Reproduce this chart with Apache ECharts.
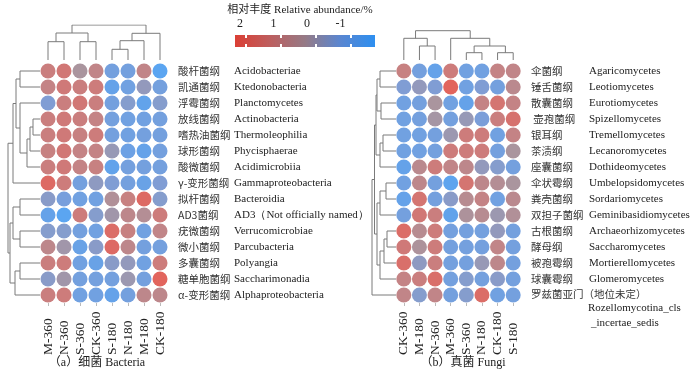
<!DOCTYPE html>
<html><head><meta charset="utf-8">
<script src="https://cdn.jsdelivr.net/npm/echarts@6/dist/echarts.min.js"></script>
<style>html,body{margin:0;padding:0;background:#fff}#c{width:700px;height:373px}</style>
</head><body><div id="c"></div>
<script>
// ---------- data ----------
const bactCols = ['M-360','N-360','S-360','CK-360','S-180','N-180','M-180','CK-180'];
const bactCn = ['酸杆菌纲','凯通菌纲','浮霉菌纲','放线菌纲','嗜热油菌纲','球形菌纲','酸微菌纲','γ-变形菌纲','拟杆菌纲','AD3菌纲','疣微菌纲','微小菌纲','多囊菌纲','糖单胞菌纲','α-变形菌纲'];
const bactEn = ['Acidobacteriae','Ktedonobacteria','Planctomycetes','Actinobacteria','Thermoleophilia','Phycisphaerae','Acidimicrobiia','Gammaproteobacteria','Bacteroidia','AD3（Not officially named）','Verrucomicrobiae','Parcubacteria','Polyangia','Saccharimonadia','Alphaproteobacteria'];
const bactValues = [
  [1.0, 1.3, 0.0, 0.7, -1.2, -1.2, 0.7, -1.9],
  [0.8, 1.2, 1.0, 1.1, -1.6, -1.3, -0.5, -1.2],
  [-0.9, 1.0, 1.3, 1.0, -1.2, -0.8, -1.7, -0.8],
  [1.0, 1.2, 1.0, 0.8, -1.2, -1.3, -1.3, -1.2],
  [1.0, 1.2, 0.9, 1.1, -1.2, -1.3, -1.2, -1.2],
  [0.9, 1.3, 0.8, 0.8, -0.4, -1.4, -1.6, -1.2],
  [1.0, 1.2, 0.8, 0.9, -1.7, -1.2, -1.2, -1.2],
  [1.8, 1.1, -1.2, -0.6, -0.9, -1.2, -1.5, -0.9],
  [-0.7, -1.1, -1.3, -1.3, 0.2, 0.9, 1.8, -0.8],
  [-1.6, -1.9, 1.1, -0.8, -0.2, 0.6, 0.3, 1.1],
  [-0.8, -0.8, -1.2, -1.3, 1.7, 0.9, -1.3, 0.7],
  [0.6, -0.2, -1.5, -0.7, 1.8, 0.6, -1.2, -1.2],
  [1.0, 1.1, -1.3, -1.5, -0.7, -0.5, -1.3, 1.1],
  [-0.7, -0.2, -1.2, -1.2, -1.2, -0.3, -1.2, 2.0],
  [1.0, 1.1, -1.3, -1.3, -1.6, -1.2, 0.6, 0.6]
];
const fungiCols = ['CK-360','M-180','N-360','M-360','S-360','N-180','CK-180','S-180'];
const fungiCn = ['伞菌纲','锤舌菌纲','散囊菌纲',' 壶孢菌纲','银耳纲','茶渍纲','座囊菌纲','伞状霉纲','粪壳菌纲','双担子菌纲','古根菌纲','酵母纲','被孢霉纲','球囊霉纲','罗兹菌亚门（地位未定）'];
const fungiEn = ['Agaricomycetes','Leotiomycetes','Eurotiomycetes','Spizellomycetes','Tremellomycetes','Lecanoromycetes','Dothideomycetes','Umbelopsidomycetes','Sordariomycetes','Geminibasidiomycetes','Archaeorhizomycetes','Saccharomycetes','Mortierellomycetes','Glomeromycetes','Rozellomycotina_cls\n_incertae_sedis'];
const fungiValues = [
  [0.9, -1.2, -1.6, 1.1, -1.3, -1.3, 0.8, 0.7],
  [-0.9, -0.5, -0.9, 2.0, -1.3, -0.9, -1.2, 0.5],
  [-1.3, -1.2, 0.0, -1.3, -1.6, 0.8, 1.4, 0.8],
  [-1.3, -1.2, -0.1, -1.2, -0.4, -1.0, 1.0, 1.5],
  [-1.3, -1.3, -1.2, -0.3, 1.1, 1.1, -1.3, 0.8],
  [-1.3, -1.3, -1.2, 1.1, 1.1, 1.1, -1.2, 0.0],
  [-1.6, 0.5, 1.1, 0.7, 0.6, -0.5, -0.8, -1.2],
  [-1.3, 0.6, -1.2, -1.8, 1.4, 0.6, 0.3, 0.0],
  [-1.6, 1.4, -1.2, -0.7, 0.4, 0.8, -1.3, 0.5],
  [-1.2, 1.3, 1.0, -1.7, 0.1, 0.4, -0.3, 0.2],
  [1.7, 0.4, 1.1, -1.2, -1.2, -1.2, -0.5, -1.2],
  [1.2, 0.1, 1.1, -1.2, -1.2, -1.2, 0.7, -1.2],
  [1.6, -0.6, 1.0, -1.2, -1.2, -0.4, 0.6, -1.2],
  [0.8, 1.0, 1.6, -1.2, -0.8, -1.2, -0.7, -1.2],
  [0.7, -0.8, 0.7, -1.2, -0.8, 1.7, -1.3, -1.2]
];
// dendrograms: [childA, childB, height]; ids < n are leaves, n+k is merge k
const bactColTree = [[0,1,18.3],[2,3,18.3],[8,9,27],[4,5,10.7],[11,6,19.3],[12,7,26.7],[10,13,35]];
const fungiColTree = [[1,2,14],[0,8,21.7],[4,5,7.3],[6,7,7.3],[10,11,14],[3,12,21.7],[9,13,29.3]];
const bactRowTree = [[0,1,20],[3,4,7],[16,5,10],[17,6,13],[2,18,20],[15,19,24],[20,7,27],[8,9,20],[10,11,20],[22,23,27],[12,13,20],[25,14,25],[24,26,30],[21,27,32]];
const fungiRowTree = [[0,1,16],[2,3,15],[15,16,19],[4,5,13],[18,6,16],[17,19,20],[7,8,10],[21,9,16],[10,11,9],[23,12,12],[24,13,16],[22,25,19],[20,26,21.5],[27,14,24]];
const cbTicks = [2, 1, 0, -1];
const cbTitle = '相对丰度 Relative abundance/%';
const captions = ['（a）细菌 Bacteria', '（b）真菌 Fungi'];

// ---------- helpers ----------
const colors = ['#2d8ff0', '#5a86d0', '#957a86', '#bd5e5e', '#db3f35']; // -2 .. 2
function heat(values) {
  const d = [];
  values.forEach((row, r) => row.forEach((v, c) => d.push([c, r, v])));
  return d;
}
function dendro(tree, n, left) {
  const pos = [], hgt = [], out = [];
  for (let i = 0; i < n; i++) { pos[i] = i; hgt[i] = 0; }
  tree.forEach((m, k) => {
    const [a, b, h] = m, id = n + k;
    pos[id] = (pos[a] + pos[b]) / 2; hgt[id] = h;
    let pts = [[pos[a], hgt[a]], [pos[a], h], [pos[b], h], [pos[b], hgt[b]]];
    if (left) pts = pts.map(p => [p[1], p[0]]);
    out.push({ coords: pts });
  });
  return out;
}
const serif = "'Liberation Serif','Times New Roman',serif";
const cjk = "'Noto Sans CJK SC',sans-serif";
const mixed = "'Liberation Serif','Noto Sans CJK SC',serif";

function heatX(grid, cols) {
  return { type: 'category', gridIndex: grid, data: cols,
    axisLine: { show: false },
    axisTick: { show: true, alignWithLabel: true, length: 3, lineStyle: { color: '#bbb' } },
    axisLabel: { interval: 0, rotate: 90, align: 'left', verticalAlign: 'middle', margin: 52, fontFamily: serif, fontSize: 13.5, color: '#222' } };
}
function heatY(grid, cn, en, cnW) {
  return { type: 'category', gridIndex: grid, inverse: true, position: 'right',
    data: cn.map((_, i) => String(i)),
    axisLine: { show: false }, axisTick: { show: false },
    axisLabel: { interval: 0, showMinLabel: true, showMaxLabel: true, hideOverlap: false, margin: 10,
      formatter: (v) => {
        const i = +v;
        if (en[i].indexOf('\n') >= 0) {
          const p = en[i].split('\n');
          return '{sp| }\n{sp| }\n{cnl|' + cn[i] + '}\n{e2|' + p[0] + '}\n{e3|' + p[1] + '}';
        }
        return '{cn|' + cn[i] + '}{en|' + en[i] + '}';
      },
      rich: {
        cn: { fontFamily: cjk, fontSize: 10.5, color: '#333', width: cnW },
        cnl: { fontFamily: cjk, fontSize: 10.5, color: '#333', lineHeight: 14 },
        en: { fontFamily: serif, fontSize: 11, color: '#222' },
        sp: { fontSize: 11, lineHeight: 14 },
        e2: { fontFamily: serif, fontSize: 11, color: '#222', lineHeight: 15, padding: [0, 0, 0, 57] },
        e3: { fontFamily: serif, fontSize: 11, color: '#222', lineHeight: 15, padding: [0, 0, 0, 60] }
      } } };
}
function hid(grid, type, min, max, inverse) {
  return { type: 'value', gridIndex: grid, min: min, max: max, inverse: !!inverse, show: false,
    splitLine: { show: false }, axisLine: { show: false }, axisLabel: { show: false }, axisTick: { show: false } };
}

// colorbar graphic
const cbX0 = 235, cbX1 = 375, cbY = 35, cbH = 12;
const cbPos = v => 240 - (v - 2) * 33.5;
const graphics = [
  { type: 'text', x: 300, y: 10, style: { text: cbTitle, font: '11px ' + mixed, fill: '#222', align: 'center', verticalAlign: 'middle' } },
  { type: 'rect', shape: { x: cbX0, y: cbY, width: cbX1 - cbX0, height: cbH },
    style: { fill: new echarts.graphic.LinearGradient(0, 0, 1, 0, [
      { offset: 0, color: colors[4] }, { offset: 0.25, color: colors[3] }, { offset: 0.5, color: colors[2] },
      { offset: 0.75, color: colors[1] }, { offset: 1, color: colors[0] }]) } }
];
cbTicks.forEach(v => {
  graphics.push({ type: 'text', x: cbPos(v), y: 24, style: { text: String(v), font: '12px ' + serif, fill: '#222', align: 'center', verticalAlign: 'middle' } });
});
[246, 281, 316, 351].forEach(x => {
  graphics.push({ type: 'line', shape: { x1: x, y1: cbY, x2: x, y2: cbY + 3 }, style: { stroke: '#fff', lineWidth: 2 } });
  graphics.push({ type: 'line', shape: { x1: x, y1: cbY + cbH - 3, x2: x, y2: cbY + cbH }, style: { stroke: '#fff', lineWidth: 2 } });
});
graphics.push({ type: 'text', x: 97, y: 363, style: { text: captions[0], font: '12px ' + mixed, fill: '#222', align: 'center', verticalAlign: 'middle' } });
graphics.push({ type: 'text', x: 463, y: 363, style: { text: captions[1], font: '12px ' + mixed, fill: '#222', align: 'center', verticalAlign: 'middle' } });

const lineStyle = { color: '#7a7a7a', width: 1, opacity: 1 };
const chart = echarts.init(document.getElementById('c'), null, { renderer: 'canvas' });
chart.setOption({
  animation: false,
  backgroundColor: '#fff',
  grid: [
    { left: 40, top: 63, width: 128, height: 240 },
    { left: 396, top: 63, width: 125, height: 240 },
    { left: 40, top: 25, width: 128, height: 35 },
    { left: 396, top: 25, width: 125, height: 35 },
    { left: 8, top: 63, width: 32, height: 240 },
    { left: 372, top: 63, width: 24, height: 240 }
  ],
  xAxis: [
    heatX(0, bactCols), heatX(1, fungiCols),
    hid(2, 'value', -0.5, 7.5), hid(3, 'value', -0.5, 7.5),
    hid(4, 'value', 0, 32, true), hid(5, 'value', 0, 24, true)
  ],
  yAxis: [
    heatY(0, bactCn, bactEn, 56), heatY(1, fungiCn, fungiEn, 58),
    hid(2, 'value', 0, 35), hid(3, 'value', 0, 35),
    hid(4, 'value', -0.5, 14.5, true), hid(5, 'value', -0.5, 14.5, true)
  ],
  visualMap: { type: 'continuous', show: false, min: -2, max: 2, dimension: 2, seriesIndex: [0, 1], inRange: { color: colors } },
  series: [
    { type: 'scatter', xAxisIndex: 0, yAxisIndex: 0, symbolSize: 15, data: heat(bactValues) },
    { type: 'scatter', xAxisIndex: 1, yAxisIndex: 1, symbolSize: 15, data: heat(fungiValues) },
    { type: 'lines', coordinateSystem: 'cartesian2d', xAxisIndex: 2, yAxisIndex: 2, polyline: true, lineStyle, data: dendro(bactColTree, 8, false) },
    { type: 'lines', coordinateSystem: 'cartesian2d', xAxisIndex: 3, yAxisIndex: 3, polyline: true, lineStyle, data: dendro(fungiColTree, 8, false) },
    { type: 'lines', coordinateSystem: 'cartesian2d', xAxisIndex: 4, yAxisIndex: 4, polyline: true, lineStyle, data: dendro(bactRowTree, 15, true) },
    { type: 'lines', coordinateSystem: 'cartesian2d', xAxisIndex: 5, yAxisIndex: 5, polyline: true, lineStyle, data: dendro(fungiRowTree, 15, true) }
  ],
  graphic: graphics
});
</script></body></html>
